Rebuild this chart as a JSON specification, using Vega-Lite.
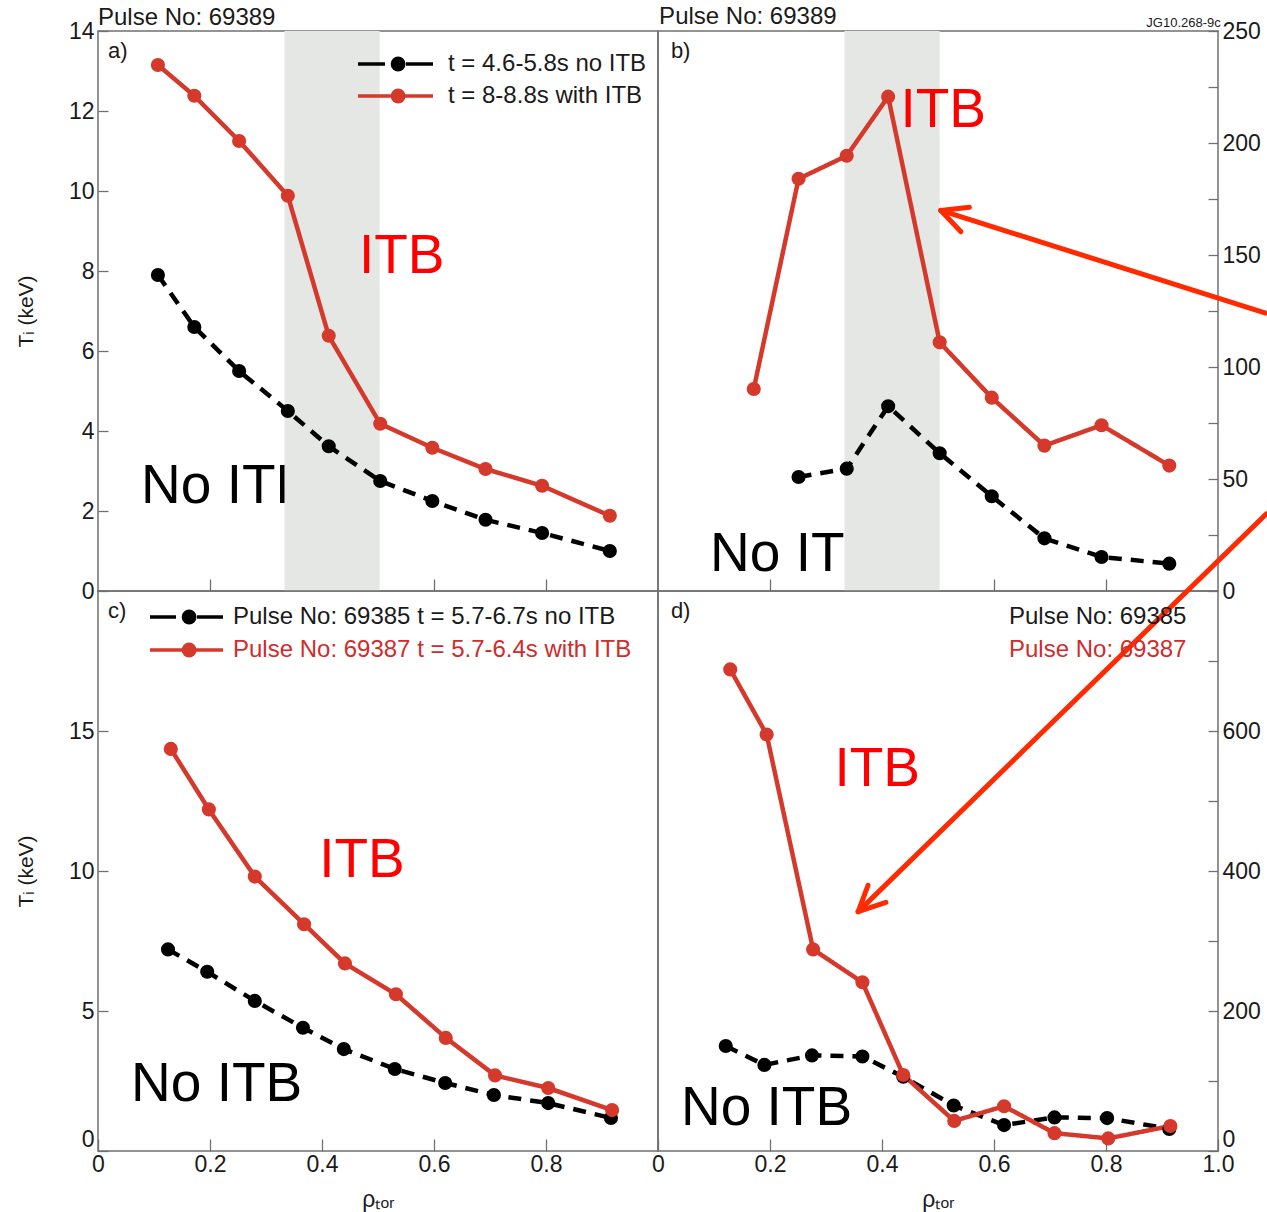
{
"$schema": "https://vega.github.io/schema/vega-lite/v6.json",
"padding": {"left": 14, "top": 4, "right": 0, "bottom": 0},
"bounds": "flush",
"spacing": 0,
"columns": 2,
"resolve": {"scale": {"stroke": "independent", "fill": "independent", "strokeDash": "independent"}, "legend": {"stroke": "independent", "fill": "independent", "strokeDash": "independent"}},
"config": {
  "font": "Liberation Sans",
  "view": {"stroke": "#707070", "strokeWidth": 1.5},
  "axis": {"domain": false, "grid": false, "labelFont": "Liberation Sans", "labelFontSize": 23, "labelColor": "#1a1a1a", "tickColor": "#707070", "tickWidth": 1.3, "titleFont": "Liberation Sans", "titleFontSize": 21, "titleFontWeight": "normal", "titleColor": "#1a1a1a", "labelFlush": false},
  "legend": {"labelFont": "Liberation Sans", "labelFontSize": 24, "labelColor": "#1a1a1a", "labelLimit": 1000, "padding": 0}
},
"datasets": {
  "profiles": [
    {"panel":"a","series":"no","rho":0.107,"value":7.9},{"panel":"a","series":"no","rho":0.172,"value":6.6},{"panel":"a","series":"no","rho":0.252,"value":5.5},{"panel":"a","series":"no","rho":0.339,"value":4.5},{"panel":"a","series":"no","rho":0.412,"value":3.62},{"panel":"a","series":"no","rho":0.504,"value":2.75},{"panel":"a","series":"no","rho":0.597,"value":2.25},{"panel":"a","series":"no","rho":0.692,"value":1.78},{"panel":"a","series":"no","rho":0.793,"value":1.45},{"panel":"a","series":"no","rho":0.914,"value":1.0},
    {"panel":"a","series":"with","rho":0.107,"value":13.15},{"panel":"a","series":"with","rho":0.172,"value":12.38},{"panel":"a","series":"with","rho":0.252,"value":11.25},{"panel":"a","series":"with","rho":0.339,"value":9.88},{"panel":"a","series":"with","rho":0.412,"value":6.38},{"panel":"a","series":"with","rho":0.504,"value":4.18},{"panel":"a","series":"with","rho":0.597,"value":3.58},{"panel":"a","series":"with","rho":0.692,"value":3.05},{"panel":"a","series":"with","rho":0.793,"value":2.63},{"panel":"a","series":"with","rho":0.914,"value":1.88},
    {"panel":"b","series":"no","rho":0.251,"value":50.9},{"panel":"b","series":"no","rho":0.337,"value":54.6},{"panel":"b","series":"no","rho":0.411,"value":82.5},{"panel":"b","series":"no","rho":0.503,"value":61.5},{"panel":"b","series":"no","rho":0.596,"value":42.3},{"panel":"b","series":"no","rho":0.69,"value":23.5},{"panel":"b","series":"no","rho":0.792,"value":15.2},{"panel":"b","series":"no","rho":0.913,"value":12.2},
    {"panel":"b","series":"with","rho":0.171,"value":90.2},{"panel":"b","series":"with","rho":0.251,"value":184},{"panel":"b","series":"with","rho":0.337,"value":194.3},{"panel":"b","series":"with","rho":0.411,"value":220.7},{"panel":"b","series":"with","rho":0.503,"value":111},{"panel":"b","series":"with","rho":0.596,"value":86.3},{"panel":"b","series":"with","rho":0.69,"value":64.9},{"panel":"b","series":"with","rho":0.792,"value":74},{"panel":"b","series":"with","rho":0.913,"value":56},
    {"panel":"c","series":"no","rho":0.125,"value":7.2},{"panel":"c","series":"no","rho":0.195,"value":6.4},{"panel":"c","series":"no","rho":0.28,"value":5.36},{"panel":"c","series":"no","rho":0.366,"value":4.4},{"panel":"c","series":"no","rho":0.439,"value":3.64},{"panel":"c","series":"no","rho":0.53,"value":2.93},{"panel":"c","series":"no","rho":0.62,"value":2.43},{"panel":"c","series":"no","rho":0.707,"value":2.0},{"panel":"c","series":"no","rho":0.804,"value":1.71},{"panel":"c","series":"no","rho":0.916,"value":1.18},
    {"panel":"c","series":"with","rho":0.13,"value":14.36},{"panel":"c","series":"with","rho":0.198,"value":12.2},{"panel":"c","series":"with","rho":0.28,"value":9.8},{"panel":"c","series":"with","rho":0.368,"value":8.1},{"panel":"c","series":"with","rho":0.441,"value":6.7},{"panel":"c","series":"with","rho":0.532,"value":5.6},{"panel":"c","series":"with","rho":0.621,"value":4.04},{"panel":"c","series":"with","rho":0.709,"value":2.7},{"panel":"c","series":"with","rho":0.804,"value":2.25},{"panel":"c","series":"with","rho":0.918,"value":1.46},
    {"panel":"d","series":"no","rho":0.121,"value":150},{"panel":"d","series":"no","rho":0.19,"value":123},{"panel":"d","series":"no","rho":0.275,"value":136.6},{"panel":"d","series":"no","rho":0.365,"value":135},{"panel":"d","series":"no","rho":0.438,"value":106},{"panel":"d","series":"no","rho":0.528,"value":65},{"panel":"d","series":"no","rho":0.618,"value":37},{"panel":"d","series":"no","rho":0.708,"value":48},{"panel":"d","series":"no","rho":0.802,"value":47},{"panel":"d","series":"no","rho":0.913,"value":31.6},
    {"panel":"d","series":"with","rho":0.129,"value":688},{"panel":"d","series":"with","rho":0.194,"value":595},{"panel":"d","series":"with","rho":0.277,"value":288},{"panel":"d","series":"with","rho":0.365,"value":241},{"panel":"d","series":"with","rho":0.438,"value":108.5},{"panel":"d","series":"with","rho":0.529,"value":43},{"panel":"d","series":"with","rho":0.618,"value":64},{"panel":"d","series":"with","rho":0.708,"value":25.5},{"panel":"d","series":"with","rho":0.804,"value":18},{"panel":"d","series":"with","rho":0.915,"value":35.7}
  ],
  "notes": [
    {"panel":"a","kind":"noitb","rho":0.077,"value":2.2,"label":"No ITB"},
    {"panel":"a","kind":"itb","rho":0.466,"value":7.95,"label":"ITB"},
    {"panel":"a","kind":"lab","rho":0.018,"value":13.5,"label":"a)"},
    {"panel":"a","kind":"pulse","rho":0.0,"value":14.16,"label":"Pulse No: 69389"},
    {"panel":"b","kind":"noitb","rho":0.093,"value":8.9,"label":"No ITB"},
    {"panel":"b","kind":"itb","rho":0.433,"value":207,"label":"ITB"},
    {"panel":"b","kind":"lab","rho":0.023,"value":241,"label":"b)"},
    {"panel":"b","kind":"pulse","rho":0.002,"value":253,"label":"Pulse No: 69389"},
    {"panel":"b","kind":"jg","rho":1.005,"value":252,"label":"JG10.268-9c"},
    {"panel":"c","kind":"noitb","rho":0.059,"value":1.8,"label":"No ITB"},
    {"panel":"c","kind":"itb","rho":0.395,"value":9.8,"label":"ITB"},
    {"panel":"c","kind":"lab","rho":0.018,"value":19.3,"label":"c)"},
    {"panel":"d","kind":"noitb","rho":0.041,"value":36.7,"label":"No ITB"},
    {"panel":"d","kind":"itb","rho":0.315,"value":520.8,"label":"ITB"},
    {"panel":"d","kind":"lab","rho":0.023,"value":771,"label":"d)"}
  ],
  "bands": [
    {"panel":"a","rho":0.333,"rho2":0.503,"value":0,"value2":14},
    {"panel":"b","rho":0.333,"rho2":0.503,"value":0,"value2":250}
  ],
  "arrows": [
    {"panel":"b","rho":0.505,"value":169.9,"rho2":1.085,"value2":124.1},
    {"panel":"b","rho":0.505,"value":169.9,"rho2":0.556,"value2":171.3},
    {"panel":"b","rho":0.505,"value":169.9,"rho2":0.541,"value2":160.4},
    {"panel":"d","rho":0.3575,"value":342,"rho2":1.086,"value2":910},
    {"panel":"d","rho":0.3575,"value":342,"rho2":0.375,"value2":379.6},
    {"panel":"d","rho":0.3575,"value":342,"rho2":0.407,"value2":355.2}
  ]
},
"concat": [
  {
   "width": 560, "height": 560,
   "encoding": {
     "x": {"field":"rho","type":"quantitative","scale":{"domain":[0,1],"nice":false,"zero":false},"axis":{"orient":"bottom","values":[0.2,0.4,0.6,0.8],"labels":false,"title":null,"tickSize":-12}},
     "y": {"field":"value","type":"quantitative","scale":{"domain":[0,14],"nice":false},"axis":{"orient":"left","values":[0,2,4,6,8,10,12,14],"tickSize":-10,"labelPadding":14,"title":"Tᵢ (keV)","titleX":-72,"titleBaseline":"middle"}}
   },
   "layer": [
    {"data":{"name":"notes"},"transform":[{"filter":"datum.panel === 'a' && datum.kind === 'noitb'"}],"mark":{"type":"text","align":"left","baseline":"alphabetic","fontSize":55,"color":"#000000"},"encoding":{"text":{"field":"label"}}},
    {"data":{"name":"bands"},"transform":[{"filter":"datum.panel === 'a'"}],"mark":{"type":"rect","color":"#e5e7e4"},"encoding":{"x2":{"field":"rho2"},"y2":{"field":"value2"}}},
    {"data":{"name":"profiles"},"transform":[{"filter":"datum.panel === 'a' && datum.series === 'with'"}],"mark":{"type":"line","strokeWidth":4.5},
     "encoding":{"stroke":{"field":"series","type":"nominal","scale":{"domain":["no","with"],"range":["#000000","#d5392b"]},
        "legend":{"title":null,"orient":"none","legendX":258,"legendY":18,"symbolType":"stroke","symbolSize":5625,"symbolStrokeWidth":3.5,"clipHeight":30,"rowPadding":2,"labelOffset":13,
          "labelExpr":"datum.value === 'no' ? 't = 4.6-5.8s no ITB' : 't = 8-8.8s with ITB'",
          "encode":{"symbols":{"update":{"strokeDash":{"signal":"datum.value === 'no' ? [27,21,27,300] : [1,0]"},"opacity":{"value":1}}}}}}}},
    {"data":{"name":"profiles"},"transform":[{"filter":"datum.panel === 'a' && datum.series === 'no'"}],"mark":{"type":"line","strokeWidth":4.5,"strokeDash":[13,9]},
     "encoding":{"stroke":{"field":"series","type":"nominal"}}},
    {"data":{"name":"profiles"},"transform":[{"filter":"datum.panel === 'a'"}],"mark":{"type":"point","filled":true,"opacity":1,"size":200},
     "encoding":{"fill":{"field":"series","type":"nominal","scale":{"domain":["no","with","-"],"range":["#000000","#d5392b","#000000"]},
        "legend":{"title":null,"values":["no","with"],"orient":"none","legendX":288.1,"legendY":18,"symbolType":"circle","symbolSize":220,"symbolStrokeWidth":0,"clipHeight":30,"rowPadding":2,"labelExpr":"''","labelOpacity":0,"encode":{"symbols":{"update":{"opacity":{"value":1}}}}}}}},
    {"data":{"name":"notes"},"transform":[{"filter":"datum.panel === 'a' && datum.kind === 'itb'"}],"mark":{"type":"text","align":"left","baseline":"alphabetic","fontSize":55,"color":"#ff0000"},"encoding":{"text":{"field":"label"}}},
    {"data":{"name":"notes"},"transform":[{"filter":"datum.panel === 'a' && datum.kind === 'lab'"}],"mark":{"type":"text","align":"left","baseline":"middle","fontSize":22,"color":"#1a1a1a"},"encoding":{"text":{"field":"label"}}},
    {"data":{"name":"notes"},"transform":[{"filter":"datum.panel === 'a' && datum.kind === 'pulse'"}],"mark":{"type":"text","align":"left","baseline":"alphabetic","fontSize":24,"color":"#1a1a1a","clip":false},"encoding":{"text":{"field":"label"}}}
   ]
  },
  {
   "width": 560, "height": 560,
   "encoding": {
     "x": {"field":"rho","type":"quantitative","scale":{"domain":[0,1],"nice":false,"zero":false},"axis":{"orient":"bottom","values":[0.2,0.4,0.6,0.8],"labels":false,"title":null,"tickSize":-12}},
     "y": {"field":"value","type":"quantitative","scale":{"domain":[0,250],"nice":false},"axis":{"orient":"right","values":[0,25,50,75,100,125,150,175,200,225,250],"labelExpr":"datum.value % 50 === 0 ? datum.label : ''","tickSize":-10,"labelPadding":14,"title":null}}
   },
   "layer": [
    {"data":{"name":"notes"},"transform":[{"filter":"datum.panel === 'b' && datum.kind === 'noitb'"}],"mark":{"type":"text","align":"left","baseline":"alphabetic","fontSize":55,"color":"#000000"},"encoding":{"text":{"field":"label"}}},
    {"data":{"name":"bands"},"transform":[{"filter":"datum.panel === 'b'"}],"mark":{"type":"rect","color":"#e5e7e4"},"encoding":{"x2":{"field":"rho2"},"y2":{"field":"value2"}}},
    {"data":{"name":"profiles"},"transform":[{"filter":"datum.panel === 'b'"}],"mark":{"type":"line","strokeWidth":4.5},
     "encoding":{"stroke":{"field":"series","type":"nominal","scale":{"domain":["no","with"],"range":["#000000","#d5392b"]},"legend":null},
       "strokeDash":{"field":"series","type":"nominal","scale":{"domain":["no","with"],"range":[[13,9],[1,0]]},"legend":null}}},
    {"data":{"name":"profiles"},"transform":[{"filter":"datum.panel === 'b'"}],"mark":{"type":"point","filled":true,"opacity":1,"size":200},
     "encoding":{"fill":{"field":"series","type":"nominal","scale":{"domain":["no","with"],"range":["#000000","#d5392b"]},"legend":null}}},
    {"data":{"name":"notes"},"transform":[{"filter":"datum.panel === 'b' && datum.kind === 'itb'"}],"mark":{"type":"text","align":"left","baseline":"alphabetic","fontSize":55,"color":"#ff0000"},"encoding":{"text":{"field":"label"}}},
    {"data":{"name":"notes"},"transform":[{"filter":"datum.panel === 'b' && datum.kind === 'lab'"}],"mark":{"type":"text","align":"left","baseline":"middle","fontSize":22,"color":"#1a1a1a"},"encoding":{"text":{"field":"label"}}},
    {"data":{"name":"notes"},"transform":[{"filter":"datum.panel === 'b' && datum.kind === 'pulse'"}],"mark":{"type":"text","align":"left","baseline":"alphabetic","fontSize":24,"color":"#1a1a1a","clip":false},"encoding":{"text":{"field":"label"}}},
    {"data":{"name":"notes"},"transform":[{"filter":"datum.panel === 'b' && datum.kind === 'jg'"}],"mark":{"type":"text","align":"right","baseline":"alphabetic","fontSize":13,"color":"#1a1a1a","clip":false},"encoding":{"text":{"field":"label"}}},
    {"data":{"name":"arrows"},"transform":[{"filter":"datum.panel === 'b'"}],"mark":{"type":"rule","color":"#ff2a00","strokeWidth":5,"strokeCap":"round","clip":false},"encoding":{"x2":{"field":"rho2"},"y2":{"field":"value2"}}}
   ]
  },
  {
   "width": 560, "height": 560,
   "encoding": {
     "x": {"field":"rho","type":"quantitative","scale":{"domain":[0,1],"nice":false,"zero":false},"axis":{"orient":"bottom","values":[0,0.2,0.4,0.6,0.8],"labelExpr":"datum.value === 0 ? '0' : format(datum.value, '.1f')","tickSize":-12,"labelPadding":14,"title":"ρₜₒᵣ","titleFontSize":23,"titleY":48,"titleBaseline":"middle"}},
     "y": {"field":"value","type":"quantitative","scale":{"domain":[0,20],"nice":false},"axis":{"orient":"left","values":[0,5,10,15],"tickSize":-10,"labelPadding":14,"labelFlush":true,"title":"Tᵢ (keV)","titleX":-72,"titleBaseline":"middle"}}
   },
   "layer": [
    {"data":{"name":"notes"},"transform":[{"filter":"datum.panel === 'c' && datum.kind === 'noitb'"}],"mark":{"type":"text","align":"left","baseline":"alphabetic","fontSize":55,"color":"#000000"},"encoding":{"text":{"field":"label"}}},
    {"data":{"name":"profiles"},"transform":[{"filter":"datum.panel === 'c' && datum.series === 'with'"}],"mark":{"type":"line","strokeWidth":4.5},
     "encoding":{"stroke":{"field":"series","type":"nominal","scale":{"domain":["no","with"],"range":["#000000","#d5392b"]},
        "legend":{"title":null,"orient":"none","legendX":50,"legendY":11,"symbolType":"stroke","symbolSize":5329,"symbolStrokeWidth":3.5,"clipHeight":30,"rowPadding":3,"labelOffset":8,
          "labelExpr":"datum.value === 'no' ? 'Pulse No: 69385 t = 5.7-6.7s no ITB' : 'Pulse No: 69387 t = 5.7-6.4s with ITB'",
          "encode":{"symbols":{"update":{"strokeDash":{"signal":"datum.value === 'no' ? [26,21,26,300] : [1,0]"},"opacity":{"value":1}}},
                    "labels":{"update":{"fill":{"signal":"datum.value === 'with' ? '#d22b2b' : '#1a1a1a'"}}}}}}}},
    {"data":{"name":"profiles"},"transform":[{"filter":"datum.panel === 'c' && datum.series === 'no'"}],"mark":{"type":"line","strokeWidth":4.5,"strokeDash":[13,9]},
     "encoding":{"stroke":{"field":"series","type":"nominal"}}},
    {"data":{"name":"profiles"},"transform":[{"filter":"datum.panel === 'c'"}],"mark":{"type":"point","filled":true,"opacity":1,"size":200},
     "encoding":{"fill":{"field":"series","type":"nominal","scale":{"domain":["no","with","-"],"range":["#000000","#d5392b","#000000"]},
        "legend":{"title":null,"values":["no","with"],"orient":"none","legendX":79.1,"legendY":11,"symbolType":"circle","symbolSize":220,"symbolStrokeWidth":0,"clipHeight":30,"rowPadding":3,"labelExpr":"''","labelOpacity":0,"encode":{"symbols":{"update":{"opacity":{"value":1}}}}}}}},
    {"data":{"name":"notes"},"transform":[{"filter":"datum.panel === 'c' && datum.kind === 'itb'"}],"mark":{"type":"text","align":"left","baseline":"alphabetic","fontSize":55,"color":"#ff0000"},"encoding":{"text":{"field":"label"}}},
    {"data":{"name":"notes"},"transform":[{"filter":"datum.panel === 'c' && datum.kind === 'lab'"}],"mark":{"type":"text","align":"left","baseline":"middle","fontSize":22,"color":"#1a1a1a"},"encoding":{"text":{"field":"label"}}}
   ]
  },
  {
   "width": 560, "height": 560,
   "encoding": {
     "x": {"field":"rho","type":"quantitative","scale":{"domain":[0,1],"nice":false,"zero":false},"axis":{"orient":"bottom","values":[0,0.2,0.4,0.6,0.8,1.0],"labelExpr":"datum.value === 0 ? '0' : format(datum.value, '.1f')","tickSize":-12,"labelPadding":14,"title":"ρₜₒᵣ","titleFontSize":23,"titleY":48,"titleBaseline":"middle"}},
     "y": {"field":"value","type":"quantitative","scale":{"domain":[0,800],"nice":false},"axis":{"orient":"right","values":[0,100,200,300,400,500,600,700],"labelExpr":"datum.value % 200 === 0 ? datum.label : ''","tickSize":-10,"labelPadding":14,"labelFlush":true,"title":null}}
   },
   "layer": [
    {"data":{"name":"notes"},"transform":[{"filter":"datum.panel === 'd' && datum.kind === 'noitb'"}],"mark":{"type":"text","align":"left","baseline":"alphabetic","fontSize":55,"color":"#000000"},"encoding":{"text":{"field":"label"}}},
    {"data":{"name":"profiles"},"transform":[{"filter":"datum.panel === 'd'"}],"mark":{"type":"line","strokeWidth":4.5},
     "encoding":{"stroke":{"field":"series","type":"nominal","scale":{"domain":["no","with"],"range":["#000000","#d5392b"]},
        "legend":{"title":null,"orient":"none","legendX":327,"legendY":11,"symbolType":"circle","symbolSize":0,"symbolOpacity":0,"symbolStrokeWidth":0,"clipHeight":30,"rowPadding":3,"labelOffset":0,
          "labelExpr":"datum.value === 'no' ? 'Pulse No: 69385' : 'Pulse No: 69387'",
          "encode":{"symbols":{"update":{"opacity":{"value":0}}},"labels":{"update":{"fill":{"signal":"datum.value === 'with' ? '#d22b2b' : '#1a1a1a'"}}}}}},
       "strokeDash":{"field":"series","type":"nominal","scale":{"domain":["no","with"],"range":[[13,9],[1,0]]},"legend":null}}},
    {"data":{"name":"profiles"},"transform":[{"filter":"datum.panel === 'd'"}],"mark":{"type":"point","filled":true,"opacity":1,"size":200},
     "encoding":{"fill":{"field":"series","type":"nominal","scale":{"domain":["no","with"],"range":["#000000","#d5392b"]},"legend":null}}},
    {"data":{"name":"notes"},"transform":[{"filter":"datum.panel === 'd' && datum.kind === 'itb'"}],"mark":{"type":"text","align":"left","baseline":"alphabetic","fontSize":55,"color":"#ff0000"},"encoding":{"text":{"field":"label"}}},
    {"data":{"name":"notes"},"transform":[{"filter":"datum.panel === 'd' && datum.kind === 'lab'"}],"mark":{"type":"text","align":"left","baseline":"middle","fontSize":22,"color":"#1a1a1a"},"encoding":{"text":{"field":"label"}}},
    {"data":{"name":"arrows"},"transform":[{"filter":"datum.panel === 'd'"}],"mark":{"type":"rule","color":"#ff2a00","strokeWidth":5,"strokeCap":"round","clip":false},"encoding":{"x2":{"field":"rho2"},"y2":{"field":"value2"}}}
   ]
  }
]
}
